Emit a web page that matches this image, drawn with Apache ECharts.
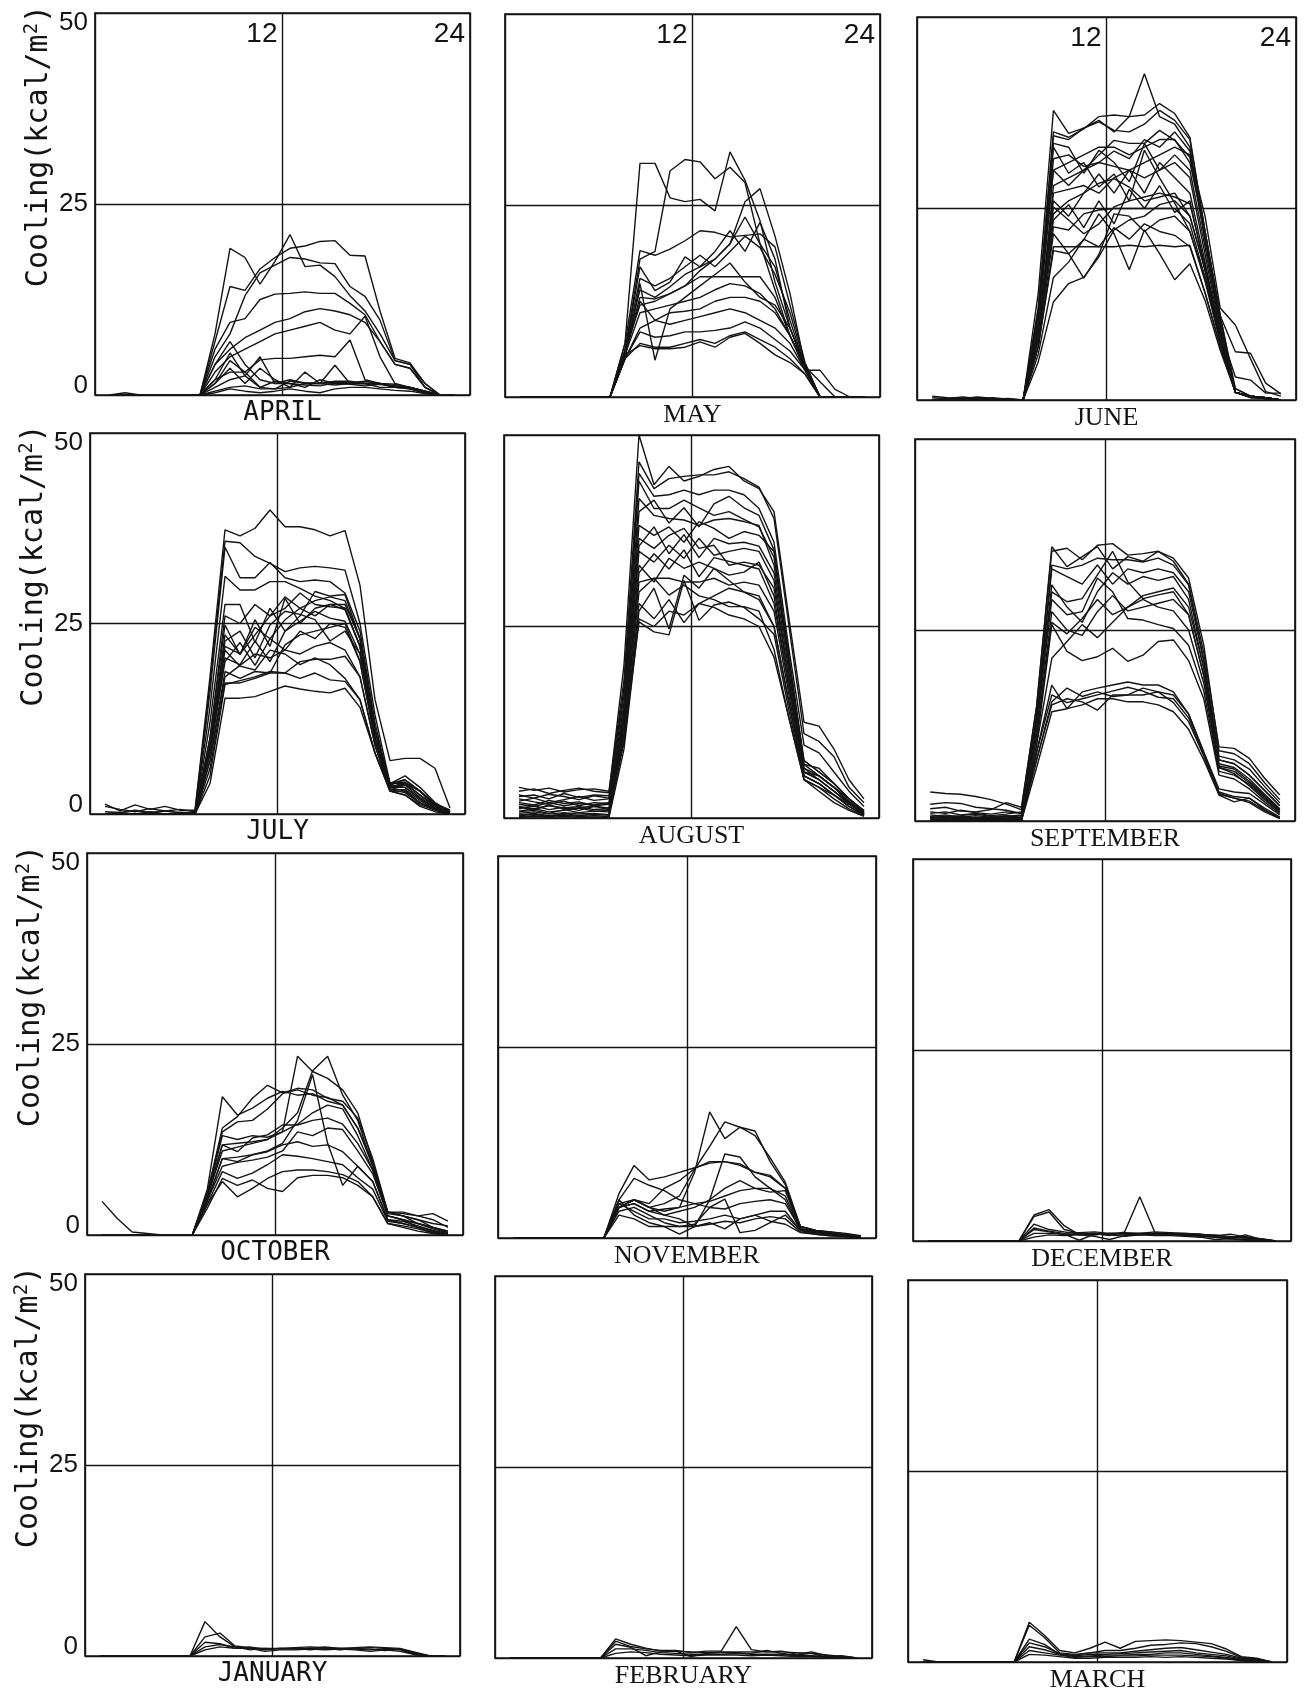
<!DOCTYPE html>
<html><head><meta charset="utf-8">
<script src="https://cdn.jsdelivr.net/npm/echarts@6/dist/echarts.min.js"></script>
<style>html,body{margin:0;padding:0;background:#fff}#c{width:1309px;height:1696px}</style>
</head><body><div id="c"></div>
<script>
// ---------------- data ----------------
const HOURS = [1,2,3,4,5,6,7,8,9,10,11,12,13,14,15,16,17,18,19,20,21,22,23,24];
const MONTHS = ['APRIL','MAY','JUNE','JULY','AUGUST','SEPTEMBER','OCTOBER','NOVEMBER','DECEMBER','JANUARY','FEBRUARY','MARCH'];
const Y_TICKS = [0, 25, 50];
const TOP_TICK_LABELS = ['12', '24'];
const Y_NAME = 'Cooling(kcal/m{s|2})';

const APRIL = [
[0,0,0,0,0,0,0,8,19.2,18,14.5,17.5,21,16.8,17,15.5,13,11,8,4.5,4,1.5,0,0],
[0,0,0,0,0,0,0,7,14.2,13.7,16.5,18,19.2,19.5,20.1,20.2,18.3,18.2,11,4.8,4.2,1.5,0,0],
[0,0,0,0,0,0,0,5,8,13,16,17,18,17.8,17.3,17.2,14.2,12.9,9.8,4.5,4,1,0,0],
[0,0,0,0,0,0,0,6,9.5,10,12.5,13.2,13.3,13.5,13.3,13.3,12,10.5,7,4,3.5,1,0,0],
[0,0,0,0,0,0,0,4,6,7.5,8.5,9.5,10,10.9,11.3,11,10.5,9.5,7,4,3.5,1,0,0],
[0,0,0,0,0,0,0,3,5,6,7,8,8.5,9,9.5,8.5,8,10.3,5,1.5,1,0.5,0,0],
[0,0,0,0,0,0,0,2,3,3,4.6,4.8,4.8,5,5.2,5,7.2,2,1.5,1,1,0.5,0,0],
[0,0,0,0,0,0,0,2,5.5,2.5,5,1.5,2,1.5,1.5,1.8,1.8,1.5,1.5,1,1,0.5,0,0],
[0,0,0,0,0,0,0,4,7,4,2,1.5,1.5,1,2,1.5,1.5,1.5,1,1,0.8,0.3,0,0],
[0,0,0,0,0,0,0,1.5,3.5,1.5,3.5,2,1,3,1.5,3.9,1.5,1.5,1.5,1,0.8,0.3,0,0],
[0,0,0,0,0,0,0,0.5,1,1.2,0.8,0.8,1,1.5,1.5,1.3,1.5,1.5,1.4,1.2,0.8,0.3,0,0],
[0,0.3,0,0,0,0,0,0.3,0.8,0.5,0.3,0.5,0.8,0.5,0.3,0.8,1,1,0.8,0.6,0.5,0.2,0,0],
[0,0,0,0,0,0,0,1,2,2.5,1,1.8,1.5,1.3,1.2,1.6,1.4,1.2,1.4,1.2,1,0.5,0,0],
[0,0,0,0,0,0,0,1.5,4.5,3,1,0.8,1.8,1.6,1.5,1.7,1.6,1.8,1.5,1.4,1,0.4,0,0]
];
const MAY = [
[0,0,0,0,0,0,0,7,30.5,30.5,26,25.5,25.8,24.3,32,28.3,23,15,9,4,0,0,0,0],
[0,0,0,0,0,0,0,6,18,19,29.5,31,30.7,28.5,30,28,20,14,8,3.5,0,0,0,0],
[0,0,0,0,0,0,0,6,12,12.5,13.5,14.5,16.5,18,20,25.5,27.2,21,13.5,4,0,0,0,0],
[0,0,0,0,0,0,0,7,19.1,18.5,19.3,20.4,21.7,21.5,20.9,21.1,21.3,19.6,12,4.5,0,0,0,0],
[0,0,0,0,0,0,0,6,17,13.9,15,18.3,17,19,21.7,19,22.8,18,9,4,0,0,0,0],
[0,0,0,0,0,0,0,5,14.8,4.8,11.5,13,14.5,16,17.5,15,13,12,9,4,0,0,0,0],
[0,0,0,0,0,0,0,6,13,12.8,13.5,14.5,15.7,15.7,15.7,15.7,15.7,13,8,4,0,0,0,0],
[0,0,0,0,0,0,0,5.5,11,11.5,12,12.5,13,14,14.8,14.5,13.5,11.5,8,4,0,0,0,0],
[0,0,0,0,0,0,0,5.5,12.5,10,11,11.2,11.5,12.5,13,13,12.5,11,8,4,0,0,0,0],
[0,0,0,0,0,0,0,5,8.5,7.8,8,8.5,8.5,8.7,9,9.8,9,7.5,6,3.5,0,0,0,0],
[0,0,0,0,0,0,0,5,7,6.5,6.5,7,7.5,7,8,8.5,7.5,6.5,5,3,0,0,0,0],
[0,0,0,0,0,0,0,5.5,6.7,6.3,6.3,6.5,7.2,6.5,7.8,8.3,7,5.5,4.5,3,0,0,0,0],
[0,0,0,0,0,0,0,5,9,10,9.5,10,10.5,11,11.5,11,10,9,7,3.5,3.5,1,0,0],
[0,0,0,0,0,0,0,6,14,13,14.4,16,17,18,20,23.5,20,17,10,4,2,0,0,0],
[0,0,0,0,0,0,0,6,15.5,14.5,15.5,17,18.5,17,19,21,19.5,16,11,4.2,0,0,0,0]
];
const JUNE = [
[0.5,0.3,0.2,0.4,0.2,0.1,0,14,37.8,34.8,35.5,36.5,35,37,42.6,37,36,33,21,10,1,0.5,0.3,0],
[0.3,0.2,0.4,0.2,0.3,0.1,0,12,35,34.3,35.4,37,37.2,37,37.2,38.7,37.4,34.3,22,11,1,0.3,0.3,0],
[0,0.2,0.1,0.3,0.1,0.2,0,12,34.5,34,35.5,36.3,35.2,35,36,37.8,36.5,34,22,11,1.5,0.5,0.3,0],
[0,0,0,0,0,0,0,11,33.5,33,29.6,32.6,31,28.5,33.5,30,32,30,20,9.5,1,0.5,0.2,0],
[0,0,0,0,0,0,0,11,30,28,30,32,33.9,33.5,33.5,35.2,33.9,31.7,21,10,1,0.5,0.3,0],
[0,0,0,0,0,0,0,10,33,29.6,31,27.8,29.5,26,32.6,29,25.7,22,16,8,1,0.5,0.3,0],
[0,0,0,0,0,0,0,9,24.3,26,27,28.3,28.9,27.8,26,26.5,27,24,17,8.5,1,0.4,0.3,0],
[0,0,0,0,0,0,0,9,25.2,23.5,21.7,23,25.2,26,26.5,27,26.5,25.6,17.5,8.5,1,0.4,0.2,0],
[0,0,0,0,0,0,0,8,22.6,22.2,24.3,24.8,25,25,25,25,25,23,16,8,1,0.3,0.3,0],
[0,0,0,0,0,0,0,7,20,20,20,20,20,20.2,20,20.2,20,20.2,14,7,1,0.4,0.2,0],
[0,0,0,0,0,0,0,7,19.5,19.1,20.9,24.3,21.7,17,22.2,19.1,15.7,17.8,13,6.5,1,0.5,0.3,0],
[0,0,0,0,0,0,0,5,12.8,15.2,16,18.7,22.2,23.5,24,25.5,26,24,17,8.5,1.5,0.5,0.3,0],
[0,0,0,0,0,0,0,7,21.7,19.1,15.9,19,24.3,24,22,23.5,24,22,15.5,7.5,1,0.4,0.3,0],
[0,0,0,0,0,0,0,8,28,29,30,31,30.5,30,31,32,33,32,24,12,9.8,5.4,1.1,0.5],
[0,0,0,0,0,0,0,10,30,31,32,33,33,32,33,34,34,31,22,11,6.3,6.1,2.2,0.8],
[0,0,0,0,0,0,0,9,27,27.5,28,27,29,30,29,30,31,29,19,9,3,2.6,0.9,0.9],
[0,0,0,0,0,0,0,9,26,24,27,29.5,27,30,27,31,29,27,18,8.5,1,0.4,0.2,0],
[0,0,0,0,0,0,0,8,23.5,25.5,22.5,26,23,27.5,25,28,24.5,26,17,8,1,0.4,0.3,0],
[0,0,0,0,0,0,0,10,31.5,32,30.5,31,32.5,31.5,34,33,35,32.5,21,10,1,0.5,0.3,0],
[0,0,0,0,0,0,0,6,16,18,21,20,22.5,21,23,22,21.5,20,14,7,1,0.4,0.2,0]
];
const JULY = [
[1.3,0.4,1.2,0.6,1,0.5,0.5,18,37.3,36.5,37.5,39.9,37.7,37.7,37.3,36.5,37.2,30,15,7,7.3,7.3,6,0.8],
[1,0.6,0.3,0.7,0.4,0.6,0.3,17,35.8,35.6,33.8,32.9,31.8,32.3,32.5,32.3,32,25,13,4,5,3.5,1.5,0.3],
[0.3,0.2,0.5,0.2,0.4,0.2,0.2,16,35,31,31,33,31,30.5,30.7,30.5,29,24,12,3.5,4,3,1,0.2],
[0,0.2,0,0.3,0,0.2,0.1,14,31.2,29.4,29.4,30.5,30.5,29.6,28.6,28,27,22,11,4,4.5,3,1.2,0.2],
[0,0,0,0,0,0,0,12,27.5,27.5,22.5,27,24,26,29.2,28.6,28.8,23,11,3.5,4,2.5,1,0.3],
[0,0,0,0,0,0,0,10,24.8,20.9,25.5,22,28.3,25,27,27.5,27.5,23,11,4,4,2.5,1,0.2],
[0,0,0,0,0,0,0,9,22.7,24,20.5,24.8,26.6,26.2,25.5,22.7,24,21,10,3.5,3.5,2,0.8,0],
[0,0,0,0,0,0,0,8,20.5,19.6,22.7,20,24,25.3,26.6,25.7,25.3,21,10,3.8,3.5,2,0.8,0.1],
[0,0,0,0,0,0,0,7,18.7,17.8,18.7,18.5,22.2,23.5,24,24.5,25,20,10,3.5,3,1.5,0.6,0],
[0,0,0,0,0,0,0,6,17.2,17.2,17.8,18.5,18.5,20,20.3,20.3,20.7,18,9,3,3,1.5,0.5,0],
[0,0,0,0,0,0,0,5,17,17.5,18,18.7,18.5,17.8,18.5,17.6,17.4,15,8,3,2.5,1.2,0.5,0],
[0,0,0,0,0,0,0,4,15.2,15.2,15.4,16.1,16.8,16.4,16.1,15.9,16.5,14,8,3,2.5,1,0.3,0],
[0,0,0,0,0,0,0,9,22,21,23.5,26,27,29,27.5,27.2,27,22,10,3.8,4.5,3,1.3,0.5],
[0,0,0,0,0,0,0,8,21.5,19.4,18.9,21.5,21,19.6,20.5,19.6,17.8,15,8,3.2,2.8,1.4,0.6,0.2],
[0,0,0,0,0,0,0,9,23.5,21,24.5,23,25.5,27,26,27.5,26.8,22,10,3.6,4,2.5,1,0.3],
[0,0,0,0,0,0,0,8,20,22.5,19.5,23,21.5,24,23,25,24.5,20,9.5,3.4,3.8,2.2,0.8,0.2],
[0,0,0,0,0,0,0,7,18,19.5,21,20.5,21.5,21,22,22.5,21.5,18,9,3.2,3.2,1.8,0.6,0],
[0,0,0,0,0,0,0,10,26,25,27.5,26,28.5,27,28,28.5,28,23,11,4,4.2,3,1.4,0.5]
];
const AUGUST = [
[3.5,3.8,3.2,3.6,3.9,3.5,3.3,20,50,43.5,45.9,44,44.6,45.5,45.9,44,43,40,26,12.5,12,9,5,2.5],
[4,3.6,3.9,3.4,3.7,3.8,3.5,18,46.5,43,44.3,44.6,44.8,44.8,45.2,44.3,43.2,39.1,25,11,10,8,4,2],
[2.8,3,2.5,3.2,2.7,3,2.9,17,45,42,42.2,42.8,42.2,42.8,42.8,42.2,40.4,36,22,9.5,8.5,6,3.5,1.5],
[2.2,2.6,2,2.4,2.8,2.3,2.5,16,44,40.4,40.4,41.5,40.5,39.5,40,39,38,34,21,7,6.5,4.5,2.5,0.8],
[1.8,1.5,2,1.6,1.9,1.7,2,15,41.7,39.5,39.1,38.9,38.2,38.9,39.1,38.7,38.2,33,20,7,5.5,4,2.5,0.8],
[1.2,1.6,1.1,1.4,1,1.5,1.3,14,38.2,36.9,38,36,38.7,37.8,36.5,37.4,36.9,34.8,20,7.5,6,4.5,2.5,1],
[0.8,1,0.6,1.1,0.7,0.9,0.8,13,36.5,35.2,36.9,37.8,35.2,35.6,33,33.4,33,30,18,6.5,5,3.5,2,0.5],
[0.4,0.6,0.3,0.5,0.7,0.4,0.5,13,34.8,33.4,35.6,33.9,36.5,34.3,34.8,35.2,34.8,31,18,6,5.5,4,2,0.5],
[0.2,0.3,0.2,0.4,0.2,0.3,0.2,12,33,30.8,33.9,32.6,33.4,32.6,31.7,32.1,33.4,29,17,6,5,3.5,2,0.5],
[3,2.6,3.1,2.8,2.4,2.9,2.6,11,30.8,31.3,31.3,30.8,30.8,31.3,30.4,30.8,30.4,27,16,5.5,4.5,3,1.5,0.4],
[2.5,2.1,1.8,2.2,1.6,2,1.9,10,25.6,24.3,23.9,31,25.8,27.8,28.2,27.5,26,24,14,5,4,3,1.5,0.4],
[1.5,1.2,1.6,1.3,1.5,1.1,1.2,10,27,30,24.7,31.7,30,32.6,31,29.5,29,25,15,5.5,4.5,3,1.8,0.6],
[0.6,0.8,0.5,0.7,0.5,0.6,0.4,11,29.5,31.3,29.1,30.4,29,28.5,27.6,27.6,27,22,13,5,4,2.5,1.2,0.3],
[0.1,0.2,0.1,0.2,0.1,0.1,0.1,9,26,25,27,26.5,28,27.5,26.5,26,25,21,13,5,3.5,2,1,0.2],
[0.9,1.2,0.8,1,1.3,0.9,1,13,35.5,38,34.5,37,34,36.5,35.8,36,35.5,32,19,6.5,5.5,4,2.2,0.7],
[2,1.7,2.3,1.9,2.1,1.6,1.8,12,32,34.5,32.5,35,31.5,34,33.5,33,32.5,28,17,6,5,3.5,1.8,0.5],
[0.3,0.5,0.2,0.6,0.3,0.5,0.4,10,28,26,28.5,25.5,28,29,30,29.5,28.5,25,15,5.5,4.5,3,1.5,0.4],
[1.4,1.1,1.7,1.2,1.3,1.6,1.1,14,40,41.5,38.5,40.5,38,41,42,40.5,39.5,35,21,7.5,6,4.5,2.5,0.9]
];
const SEPTEMBER = [
[3.8,3.6,3.5,3.2,2.8,2.2,1.5,15,35.9,33.3,34.6,35.9,33,34.6,34,35.3,34,31,22,9.7,9.5,8.2,5.6,3.4],
[1.6,1.8,1.3,1.2,1.5,2.4,1.8,15,35.3,35.7,34.2,36.1,36.3,34.8,35,35.3,34.4,31.8,23,9.2,8.8,7.5,5,2.8],
[1,1.2,0.8,1,0.7,0.9,1.2,14,33.5,33,33.5,34.4,34.2,34.2,33.9,34.4,33.5,30.9,21,8.5,8,6.8,4.5,2.4],
[0.6,0.8,0.5,0.7,0.5,0.6,0.8,13,30.9,28,26,30,32.5,31,32,31.5,32,29,20,8,7.5,6,4,2],
[0.4,0.5,0.3,0.4,0.3,0.4,0.5,13,30,28.7,29.1,32.2,35.3,31.3,29.1,29.6,30,27,19,7.5,7,5.5,3.5,1.6],
[0.2,0.3,0.2,0.2,0.2,0.3,0.3,12,29,27,27.4,31.8,30,26.5,26.3,25.7,25.2,23,17,6.5,6,4.8,3,1.2],
[2.2,2.4,2.3,1.8,1.6,1.4,1,11,27.4,25,24.3,27.4,29.5,27.5,28,28.5,29,27,19,7,6.5,5,3.2,1.4],
[0.3,0.2,0.4,0.3,0.2,0.3,0.2,10,25.7,22.2,21,21.5,22.6,20.9,21.7,23.5,23.7,21,16,6,5.5,4.2,2.5,1],
[0.8,0.6,0.7,0.9,0.6,0.7,0.5,10,21.3,23.5,25.7,24,26,28,29,28,27.5,25,18,7,6.2,4.6,2.8,1.2],
[0,0,0,0,0,0,0,9,17.8,14.7,16.9,17.4,17.8,18.2,17.8,17.8,16.9,14,9,4.2,3.8,3.6,2.2,0.8],
[0.5,0.4,0.6,0.4,0.5,0.4,0.3,8,15.6,17.4,16.3,16.9,16.3,16.5,16.5,16.9,16.5,14,9,3.8,3.2,3,1.7,0.5],
[0,0,0,0,0,0,0,7,14.3,14.7,15.2,16,16,15.6,15.6,15.2,14.3,12,8,3.4,2.5,3,1.5,0.3],
[0.1,0.2,0.1,0.1,0.2,0.1,0.1,8,15.2,16,15.6,14.5,16.5,16.5,17.4,16.9,15.5,13,8.5,3.6,3,2.6,1.4,0.4],
[0.5,0.6,0.4,0.5,0.4,0.6,0.7,13,33,32,31,33.5,31,33,32.5,33,32.5,30,21,8,7.5,6,4,2],
[1.2,1,1.4,1.1,0.9,1.2,1,11,26,24.5,26.5,29,27,28,29.5,30,30.5,28,20,7.2,6.8,5.2,3.4,1.5],
[0.2,0.1,0.2,0.2,0.1,0.2,0.1,9,16.5,15.5,16,16.5,17,17.5,17,16.2,16,13.5,8.6,3.5,3,2.4,1.2,0.3]
];
const OCTOBER = [
[4.4,2.2,0.4,0.2,0,0,0,6,18.1,15.7,16.6,17.9,18.8,18.3,18.5,17.5,17,14,9,2.5,2,1,0.5,0],
[0,0,0,0,0,0,0,5.5,13.5,14.8,15,16.5,18.5,19,18.3,18,17,14,9.5,2.8,2.5,1.5,1,0.5],
[0,0,0,0,0,0,0,5,11.8,12,12.2,12.5,13.5,23.4,21.4,20.5,19,16,9.5,3,2.5,2,1.5,1.2],
[0,0,0,0,0,0,0,5,11,11.5,12,12.5,14,16,21.5,23.4,18.3,15,9,3,2.8,2.5,2.8,1.8],
[0,0,0,0,0,0,0,4.5,10,10.2,10.5,11,12,15,21,12,6.5,9,7,2,1.5,1,0.3,0],
[0,0,0,0,0,0,0,5,11.8,10.9,12.7,13.1,14.4,14.4,15,15.3,14.5,12,8.5,2.5,2,1.5,0.8,0.3],
[0,0,0,0,0,0,0,4.5,10,9.6,10.5,10.9,11.8,12.2,11.6,11.8,10.9,9,7,2,1.8,1.2,0.6,0.2],
[0,0,0,0,0,0,0,4,8.3,7.4,8.1,9.2,10.5,10.3,10,9.6,9.2,7.5,6,1.8,1.5,1,0.5,0],
[0,0,0,0,0,0,0,4,7,5,6.1,7.4,8.3,8.5,8.5,8.3,7.9,7,5,1.5,1.2,0.8,0.3,0],
[0,0,0,0,0,0,0,3.5,7.4,6.5,7.2,6.1,5.7,7.5,7.8,7.8,7.5,6.5,5,1.5,1,0.5,0.2,0],
[0,0,0,0,0,0,0,5,13,12.5,13,12.8,13.5,14.5,16,17,16.5,13,8.5,3,3,2.5,2,1],
[0,0,0,0,0,0,0,4.5,9,9.5,9.8,10.2,11,13.5,13,14,13.8,11,8,2.5,2,1.5,1,0.5],
[0,0,0,0,0,0,0,5.5,14,15.5,17.9,19.6,18.6,19.2,19,17.9,17.5,15.3,10,3,2.5,2,1,0.3]
];
const NOVEMBER = [
[0,0,0,0,0,0,0,5.8,9.5,7.6,8,8.6,9.2,9.8,10,9.5,8.6,8,6.5,1.5,1,0.8,0.5,0.2],
[0,0,0,0,0,0,0,4,5,4,3.5,4,8.6,16.5,13,14.5,14,10,7,1.2,0.8,0.6,0.4,0.1],
[0,0,0,0,0,0,0,4.5,5,4,4.5,5.5,9,12,15.2,14.5,13.4,10.5,7.3,1.5,1,0.6,0.3,0.1],
[0,0,0,0,0,0,0,4,4.5,3.5,3,2.5,1.5,5,11,10.6,8,6.5,5,1,0.7,0.5,0.3,0.1],
[0,0,0,0,0,0,0,4,5,4.5,6.5,7.5,9.1,10,10,9.7,8.6,8.2,6.5,1.5,1,0.8,0.6,0.3],
[0,0,0,0,0,0,0,5,7.8,6.9,6.2,5,4.5,4.8,5.5,6.2,6.5,6.5,5.5,1.2,0.8,0.6,0.4,0.2],
[0,0,0,0,0,0,0,4,5,4,3,3.5,4,5,6.5,7.5,6.5,6,6.2,1.2,1,0.6,0.4,0.2],
[0,0,0,0,0,0,0,4.5,3.5,2.5,2.5,2,2.2,2.5,3,2.5,3,3.5,3.5,1,0.6,0.4,0.3,0.1],
[0,0,0,0,0,0,0,5,3,2,1.5,1.5,1.8,4,5.1,0.7,1,2,3,1,0.6,0.4,0.2,0],
[0,0,0,0,0,0,0,3.5,4,3,2,1.5,1.5,1.8,2.2,2,2.5,2.8,2.5,0.8,0.5,0.3,0.2,0],
[0,0,0,0,0,0,0,4,4.5,3.5,3.8,4,4.5,4,3.8,4.5,4.8,5,4.5,1.2,0.9,0.7,0.4,0.2],
[0,0,0,0,0,0,0,3,2.5,1.5,1.5,0.5,1.5,2,1.2,2.5,3,2.2,1.8,0.7,0.5,0.3,0.2,0]
];
const DECEMBER = [
[0,0,0,0,0,0,0,3.4,4.1,2,0.8,0.8,1,1,1,1,1,0.8,0.8,0.7,0.9,0.5,0.3,0],
[0,0,0,0,0,0,0,3.2,3.8,1.5,1,0.8,1,0.9,1,1,0.9,0.9,0.8,0.8,0.5,0.4,0.2,0],
[0,0,0,0,0,0,0,2.2,1.5,1.2,0.9,1,0.7,1.2,5.8,1.1,1,1,0.9,0.7,0.6,0.4,0.3,0],
[0,0,0,0,0,0,0,1.7,1.3,1,1.1,1.2,1,1.1,1,1.2,1.1,1,0.9,0.6,0.4,0.6,0.1,0],
[0,0,0,0,0,0,0,1.5,1.2,0.8,0.9,1,0.8,0.8,0.9,0.9,0.8,0.7,0.7,0.5,0.3,0.2,0.1,0],
[0,0,0,0,0,0,0,1,1,0.9,0.1,0.9,0.8,0.6,0.8,0.9,0.8,0.8,0.6,0.5,0.4,0.8,0.2,0],
[0,0,0,0,0,0,0,0.5,0.8,0.7,0.8,0.6,0.2,0.7,0.8,0.7,0.7,0.6,0.5,0.2,0.3,0.1,0,0]
];
const JANUARY = [
[0,0,0,0,0,0,0,4.5,2.5,1.2,1,0.9,1,1,1,1.2,1,1,1.1,1,0.9,0.4,0,0],
[0,0,0,0,0,0,0,2.5,3,1.3,1.1,1,1,1.1,1.2,1.1,1,1.1,1.2,1.1,1,0.5,0,0],
[0,0,0,0,0,0,0,1.8,1.6,1,1.2,0.8,1,0.9,1,0.9,1,0.9,0.8,0.9,0.8,0.2,0,0],
[0,0,0,0,0,0,0,1.2,1.5,1.2,0.8,1,0.9,1,0.8,1,0.8,1,0.9,0.7,0.9,0.3,0,0],
[0,0,0,0,0,0,0,0.8,1.2,1,1,0.6,0.8,0.8,0.9,0.8,0.9,0.8,0.6,0.8,0.6,0.2,0,0]
];
const FEBRUARY = [
[0,0,0,0,0,0,0,2.5,1.8,1.3,0.9,0.9,0.8,0.7,0.8,0.8,0.8,0.8,0.8,0.7,0.6,0.4,0.2,0],
[0,0,0,0,0,0,0,2.2,1.5,1.2,1,1,0.7,0.9,0.9,4.1,1.1,0.8,0.9,0.5,0.8,0.3,0.2,0],
[0,0,0,0,0,0,0,1.8,1.4,0.3,0.8,0.9,0.2,0.6,0.7,0.7,0.6,1,0.6,0.4,0.6,0.1,0.3,0],
[0,0,0,0,0,0,0,1.2,1.2,1,0.7,0.6,0.5,0.5,0.5,0.6,0.5,0.5,0.5,0.3,0.3,0.2,0.1,0],
[0,0,0,0,0,0,0,0.6,0.8,0.7,0.5,0.4,0.3,0.4,0.4,0.4,0.3,0.4,0.3,0.2,0.2,0.1,0,0]
];
const MARCH = [
[0,0,0,0,0,0,0,5.2,3.5,1.5,1.2,1.8,2.6,1.8,2.7,2.8,2.9,2.8,2.6,2.4,1.7,0.7,0.5,0],
[0,0,0,0,0,0,0,4.8,3.2,1.2,1,1.2,1.5,1.5,1.8,2.2,2.3,2.5,2.4,2,1.4,0.6,0.4,0],
[0,0,0,0,0,0,0,3,2.3,1,0.9,1.2,1.2,1.2,1.4,1.6,1.8,1.9,1.6,1.3,1,0.5,0.3,0],
[0,0,0,0,0,0,0,2.5,2,1.1,0.8,1,1,1.1,1.2,1.3,1.4,1.5,1.2,1,0.8,0.4,0.2,0],
[0,0,0,0,0,0,0,2,1.6,1,0.7,0.8,0.9,0.9,1,1,1.2,1.2,1,0.8,0.6,0.3,0.2,0],
[0,0,0,0,0,0,0,1.5,1.2,0.9,0.6,0.7,0.7,0.8,0.8,0.9,0.9,0.9,0.8,0.7,0.5,0.2,0.1,0],
[0.3,0,0,0,0,0,0,1,0.9,0.7,0.5,0.5,0.6,0.6,0.6,0.7,0.6,0.7,0.6,0.5,0.4,0.2,0,0]
];
const MONTH_DATA = [APRIL, MAY, JUNE, JULY, AUGUST, SEPTEMBER, OCTOBER, NOVEMBER, DECEMBER, JANUARY, FEBRUARY, MARCH];

// ---------------- layout ----------------
const PANELS = [
  {l:95, t:13, w:375, h:382}, {l:505, t:14, w:375, h:383}, {l:917, t:17, w:379, h:383},
  {l:90, t:433, w:375, h:381}, {l:504, t:435, w:375, h:383}, {l:915, t:439, w:380, h:382},
  {l:87, t:853, w:376, h:382}, {l:498, t:856, w:378, h:382}, {l:913, t:859, w:378, h:382},
  {l:85, t:1274, w:375, h:382}, {l:495, t:1276, w:377, h:382}, {l:908, t:1280, w:379, h:382}
];
const SERIF_MONTHS = ['MAY','JUNE','AUGUST','SEPTEMBER','NOVEMBER','DECEMBER','FEBRUARY','MARCH'];
const INK = '#141414';

const grids = [], xAxes = [], yAxes = [], series = [];
PANELS.forEach((p, i) => {
  const leftCol = i % 3 === 0;
  const serif = SERIF_MONTHS.includes(MONTHS[i]);
  grids.push({left: p.l, top: p.t, width: p.w, height: p.h, show: true,
    borderColor: INK, borderWidth: 1.7, backgroundColor: 'transparent'});
  xAxes.push({
    gridIndex: i, type: 'value', min: 0, max: 25, interval: 12.5, position: 'bottom',
    axisLine: {show: false}, axisTick: {show: false}, axisLabel: {show: false},
    splitLine: {show: true, lineStyle: {color: INK, width: 1.4}},
    name: MONTHS[i], nameLocation: 'middle', nameGap: 5,
    nameTextStyle: {fontFamily: serif ? 'Liberation Serif' : 'DejaVu Sans Mono', fontSize: 26, color: INK}
  });
  yAxes.push({
    gridIndex: i, type: 'value', min: Y_TICKS[0], max: Y_TICKS[2], interval: Y_TICKS[1] - Y_TICKS[0],
    axisLine: {show: false}, axisTick: {show: false},
    splitLine: {show: true, lineStyle: {color: INK, width: 1.4}},
    axisLabel: {show: leftCol, fontFamily: 'Liberation Sans', fontSize: 26, lineHeight: 19, color: INK, margin: 7,
      verticalAlignMinLabel: 'bottom', verticalAlignMaxLabel: 'top'},
    name: leftCol ? Y_NAME : '',
    nameLocation: 'middle', nameRotate: 90, nameGap: 40,
    nameTextStyle: {fontFamily: 'DejaVu Sans Mono', fontSize: 30, color: INK, padding: [0, 0, 0, 116],
      rich: {s: {fontFamily: 'DejaVu Sans Mono', fontSize: 19, color: INK, verticalAlign: 'top', padding: [0, 0, 13, 0]}}}
  });
});
// hour labels on the top row only
[0, 1, 2].forEach(i => {
  xAxes.push({
    gridIndex: i, type: 'value', min: 0, max: 25, interval: 12.5, position: 'top',
    axisLine: {show: false}, axisTick: {show: false}, splitLine: {show: false},
    axisLabel: {inside: true, margin: 7, fontFamily: 'Liberation Sans', fontSize: 28, color: INK,
      align: 'right', verticalAlign: 'top', padding: [0, 5, 0, 0],
      formatter: v => v === 12.5 ? TOP_TICK_LABELS[0] : (v === 25 ? TOP_TICK_LABELS[1] : '')}
  });
});
MONTH_DATA.forEach((days, i) => {
  days.forEach(row => {
    series.push({
      type: 'line', xAxisIndex: i, yAxisIndex: i, symbol: 'none', showSymbol: false, silent: true,
      lineStyle: {color: INK, width: 1.4}, emphasis: {disabled: true},
      data: HOURS.map((h, k) => [h, row[k]])
    });
  });
});

const chart = echarts.init(document.getElementById('c'), null, {renderer: 'canvas'});
chart.setOption({
  animation: false, backgroundColor: '#ffffff',
  grid: grids, xAxis: xAxes, yAxis: yAxes, series: series
});
</script>
</body></html>
